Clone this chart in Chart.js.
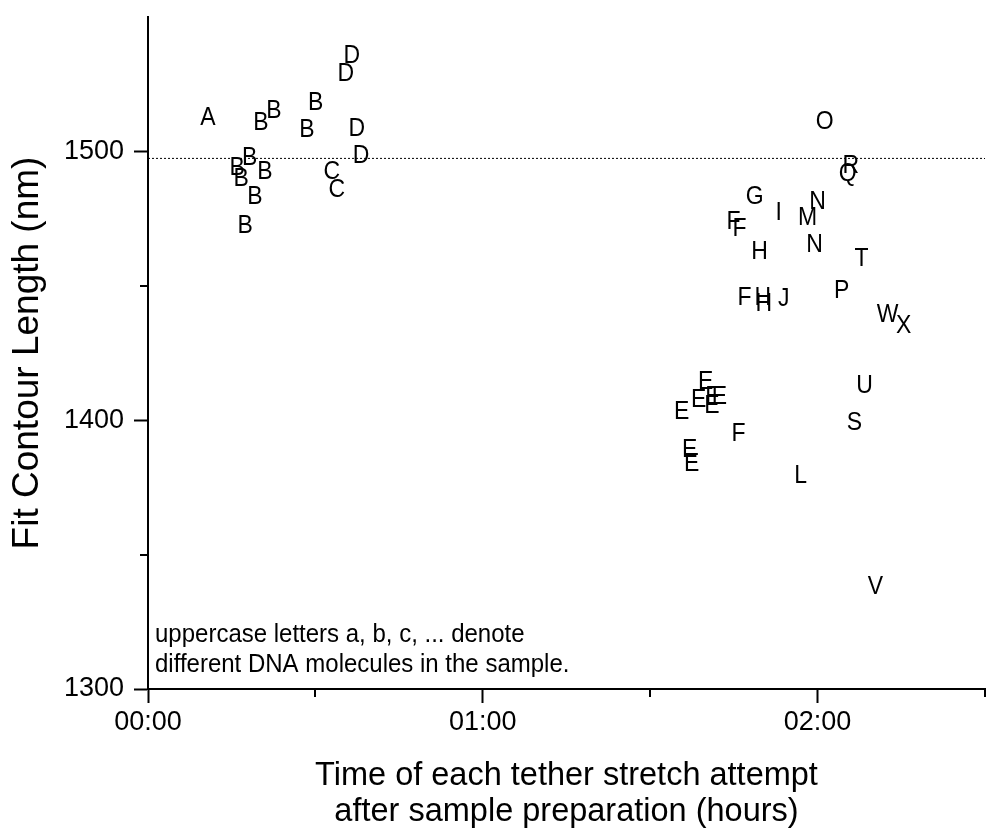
<!DOCTYPE html>
<html>
<head>
<meta charset="utf-8">
<script src="https://cdn.jsdelivr.net/npm/chart.js@4.4.0/dist/chart.umd.min.js"></script>
<style>
  html, body { margin: 0; padding: 0; background: #fff; }
  #wrap { width: 993px; height: 832px; }
</style>
</head>
<body>
<div id="wrap"><canvas id="tetherChart"></canvas></div>
<script>
// molecule letters, time of stretch (hours) and fitted contour length (nm)
const letters = [
    'A',
    'B', 'B', 'B', 'B', 'B', 'B', 'B', 'B', 'B', 'B',
    'C', 'C',
    'D', 'D', 'D', 'D',
    'E', 'E', 'E', 'E', 'E', 'E', 'E', 'E',
    'F', 'F', 'F', 'F',
    'G',
    'H', 'H', 'H',
    'I', 'J', 'L', 'M', 'N', 'N', 'O', 'P', 'Q', 'R', 'S', 'T', 'U', 'V', 'W', 'X'
]
const timeHours = [
    0.179,
    0.376, 0.337, 0.501, 0.475, 0.304, 0.266, 0.278, 0.349, 0.319, 0.290,
    0.549, 0.564,
    0.609, 0.591, 0.624, 0.636,
    1.666, 1.645, 1.687, 1.707, 1.684, 1.594, 1.618, 1.624,
    1.749, 1.767, 1.782, 1.764,
    1.812,
    1.827, 1.836, 1.839,
    1.884, 1.899, 1.949, 1.970, 2.000, 1.991, 2.021, 2.072, 2.090, 2.099, 2.110, 2.131, 2.140, 2.173, 2.209, 2.257
]
const lengthNm = [
    1512.3,
    1514.9, 1510.4, 1517.9, 1507.8, 1497.4, 1494.0, 1489.9, 1492.2, 1483.2, 1472.4,
    1492.2, 1485.8,
    1535.4, 1528.7, 1508.2, 1498.1,
    1414.3, 1407.6, 1408.8, 1408.8, 1405.4, 1403.0, 1389.0, 1383.8,
    1473.6, 1471.3, 1445.6, 1395.0,
    1483.2,
    1462.4, 1445.6, 1443.4,
    1476.9, 1444.9, 1379.3, 1475.4, 1481.0, 1465.0, 1510.8, 1448.2, 1491.4, 1494.4, 1399.1, 1460.1, 1412.8, 1338.0, 1439.3, 1435.2
]
const refLength = 1497.4
const xRange = [0, 2.5]
const yRange = [1300, 1550]
const noteLines = [
    'uppercase letters a, b, c, ... denote',
    'different DNA molecules in the sample.'
]

const FONT = 'Liberation Sans, Arial, sans-serif'

const fmtHours = (v) => {
    const h = Math.floor(v)
    const m = Math.round((v - h) * 60)
    return String(h).padStart(2, '0') + ':' + String(m).padStart(2, '0')
}

const points = timeHours.map((t, i) => ({ x: t, y: lengthNm[i] }))

// text drawn a little taller than wide, like the original
const tallText = (ctx, txt, x, y) => {
    ctx.save()
    ctx.translate(x, y)
    ctx.scale(1, 1.1)
    ctx.fillText(txt, 0, 0)
    ctx.restore()
}

// draws the letters on top of each (invisible) point, the short minor ticks and the note
const letterPlugin = {
    id: 'letterPlugin',
    afterDatasetsDraw(chart) {
        const ctx = chart.ctx
        const meta = chart.getDatasetMeta(1)
        ctx.save()
        ctx.fillStyle = '#000'
        ctx.font = '23px ' + FONT
        ctx.textAlign = 'center'
        ctx.textBaseline = 'middle'
        meta.data.forEach((pt, i) => {
            tallText(ctx, letters[i], pt.x, pt.y)
        })
        ctx.restore()
    },
    afterDraw(chart) {
        const ctx = chart.ctx
        const xs = chart.scales.x
        const ys = chart.scales.y
        const area = chart.chartArea
        ctx.save()
        ctx.strokeStyle = '#000'
        ctx.lineWidth = 2
        ;[1350, 1450].forEach(v => {
            const py = Math.round(ys.getPixelForValue(v))
            ctx.beginPath()
            ctx.moveTo(area.left - 8, py)
            ctx.lineTo(area.left, py)
            ctx.stroke()
        })
        ;[0.5, 1.5, 2.5].forEach(v => {
            const px = Math.round(xs.getPixelForValue(v))
            ctx.beginPath()
            ctx.moveTo(px, area.bottom)
            ctx.lineTo(px, area.bottom + 8)
            ctx.stroke()
        })
        ctx.fillStyle = '#000'
        ctx.font = '24px ' + FONT
        ctx.textAlign = 'left'
        ctx.textBaseline = 'middle'
        tallText(ctx, noteLines[0], area.left + 7, area.bottom - 54)
        tallText(ctx, noteLines[1], area.left + 7, area.bottom - 24)
        ctx.restore()
    }
}

const tickColorX = (c) => (c.tick && c.tick.value % 1 === 0 ? '#000' : 'rgba(0,0,0,0)')
const tickColorY = (c) => (c.tick && c.tick.value % 100 === 0 ? '#000' : 'rgba(0,0,0,0)')

const chartCanvas = document.getElementById('tetherChart')

new Chart(chartCanvas, {
    type: 'scatter',
    data: {
        datasets: [
            {
                type: 'line',
                data: [{ x: xRange[0], y: refLength }, { x: xRange[1], y: refLength }],
                borderColor: '#000',
                borderWidth: 1,
                borderDash: [2, 2],
                pointRadius: 0,
                fill: false
            },
            {
                data: points,
                pointRadius: 0,
                pointHoverRadius: 0,
                backgroundColor: 'rgba(0,0,0,0)',
                borderColor: 'rgba(0,0,0,0)'
            }
        ]
    },
    options: {
        responsive: true,
        maintainAspectRatio: false,
        animation: false,
        events: [],
        layout: { padding: { top: 17, right: 8, left: 0, bottom: 0 } },
        plugins: {
            legend: { display: false },
            tooltip: { enabled: false }
        },
        scales: {
            x: {
                type: 'linear',
                min: xRange[0],
                max: xRange[1],
                afterFit: (scale) => { scale.height = 143 },
                border: { display: true, color: '#000', width: 2 },
                grid: {
                    drawOnChartArea: false,
                    drawTicks: true,
                    tickLength: 14,
                    tickWidth: 2,
                    tickColor: tickColorX
                },
                ticks: {
                    stepSize: 0.5,
                    autoSkip: false,
                    maxRotation: 0,
                    padding: 3,
                    color: '#000',
                    font: { family: FONT, size: 27 },
                    callback: (v) => (v % 1 === 0 ? fmtHours(v) : '')
                },
                title: {
                    display: true,
                    text: ['Time of each tether stretch attempt', 'after sample preparation (hours)'],
                    color: '#000',
                    font: { family: FONT, size: 32.5, lineHeight: 1.11 },
                    padding: { top: 0, bottom: 2 }
                }
            },
            y: {
                type: 'linear',
                min: yRange[0],
                max: yRange[1],
                afterFit: (scale) => {
                    scale.width = 148
                    scale.paddingTop = 0
                    scale.paddingBottom = 0
                },
                border: { display: true, color: '#000', width: 2 },
                grid: {
                    drawOnChartArea: false,
                    drawTicks: true,
                    tickLength: 14,
                    tickWidth: 2,
                    tickColor: tickColorY
                },
                ticks: {
                    stepSize: 50,
                    autoSkip: false,
                    padding: 10,
                    color: '#000',
                    font: { family: FONT, size: 27 },
                    callback: (v) => (v % 100 === 0 ? String(v) : '')
                },
                title: {
                    display: true,
                    text: 'Fit Contour Length (nm)',
                    color: '#000',
                    font: { family: FONT, size: 37 },
                    padding: { top: 6, bottom: 0 }
                }
            }
        }
    },
    plugins: [letterPlugin]
})
</script>
</body>
</html>
